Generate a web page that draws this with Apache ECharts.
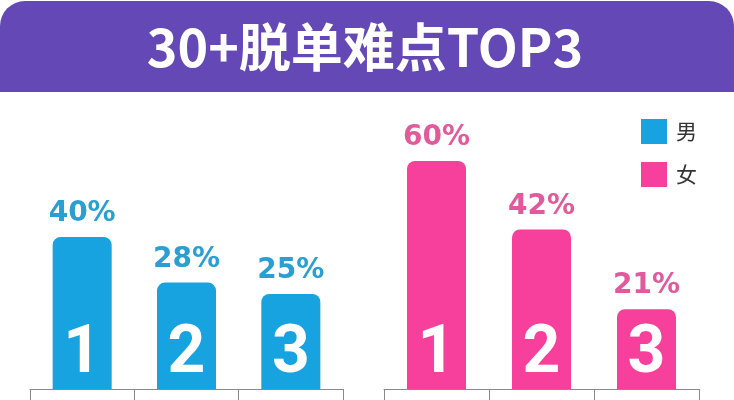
<!DOCTYPE html>
<html>
<head>
<meta charset="utf-8">
<script src="https://cdn.jsdelivr.net/npm/echarts@6/dist/echarts.min.js"></script>
<style>
html,body{margin:0;padding:0;background:#fff;}
#c{width:734px;height:400px;}
</style>
</head>
<body>
<div id="c"></div>
<script>
var titleText = '30+脱单难点TOP3';
var categories = ['1', '2', '3'];
var ranks = ['1', '2', '3'];
var maleValues = [40, 28, 25];
var femaleValues = [60, 42, 21];
var legendNames = ['男', '女'];

var BLUE = '#17a2e0', BLUE_TXT = '#2a9fd2';
var PINK = '#f7409b', PINK_TXT = '#e05a9c';

var chart = echarts.init(document.getElementById('c'));

function pctSeries(name, values, gridIdx, color, txtColor) {
  return {
    name: name, type: 'bar', xAxisIndex: gridIdx, yAxisIndex: gridIdx,
    data: values, barWidth: 59,
    itemStyle: { color: color, borderRadius: [8, 8, 0, 0] },
    label: {
      show: true, position: 'top', distance: 9,
      formatter: '{c}%', color: txtColor,
      fontFamily: 'DejaVu Sans', fontWeight: 'bold', fontSize: 28
    },
    silent: true
  };
}
function rankSeries(name, values, gridIdx) {
  return {
    name: name, type: 'bar', xAxisIndex: gridIdx, yAxisIndex: gridIdx,
    data: values, barWidth: 59, barGap: '-100%', z: 3,
    itemStyle: { color: 'rgba(0,0,0,0)' },
    label: {
      show: true, position: 'insideBottom', distance: 1,
      formatter: function (p) { return ranks[p.dataIndex]; },
      color: '#fff', fontFamily: 'Roboto', fontWeight: 'bold', fontSize: 66
    },
    silent: true
  };
}
function xAx(gridIdx) {
  return {
    type: 'category', gridIndex: gridIdx, data: categories,
    axisLine: { show: true, lineStyle: { color: '#8a8a8a', width: 1 } },
    axisTick: { show: true, length: 16, interval: 0, lineStyle: { color: '#8a8a8a' } },
    axisLabel: { show: false }
  };
}
function yAx(gridIdx) {
  return { type: 'value', gridIndex: gridIdx, min: 0, max: 70, show: false, splitLine: { show: false } };
}

chart.setOption({
  backgroundColor: '#fff',
  animation: false,
  graphic: [
    { type: 'rect', z: -10, shape: { x: 0, y: 1, width: 734, height: 91, r: [25, 25, 0, 0] }, style: { fill: '#6449b6' } },
    { type: 'text', z: 10, style: { text: titleText, x: 365, y: 47, align: 'center', verticalAlign: 'middle',
      fill: '#fff', font: 'bold 52px "Noto Sans CJK SC"' } }
  ],
  legend: {
    data: legendNames, orient: 'vertical', left: 636, top: 114,
    icon: 'rect', itemWidth: 26, itemHeight: 25, itemGap: 18,
    textStyle: { fontSize: 21, color: '#333', fontFamily: 'Noto Sans CJK SC', padding: [0, 0, 0, 4] },
    selectedMode: false
  },
  grid: [
    { left: 30, width: 313, top: 123, bottom: 11 },
    { left: 384, width: 315, top: 123, bottom: 11 }
  ],
  xAxis: [xAx(0), xAx(1)],
  yAxis: [yAx(0), yAx(1)],
  series: [
    pctSeries(legendNames[0], maleValues, 0, BLUE, BLUE_TXT),
    rankSeries('男排名', maleValues, 0),
    pctSeries(legendNames[1], femaleValues, 1, PINK, PINK_TXT),
    rankSeries('女排名', femaleValues, 1)
  ]
});
</script>
</body>
</html>
